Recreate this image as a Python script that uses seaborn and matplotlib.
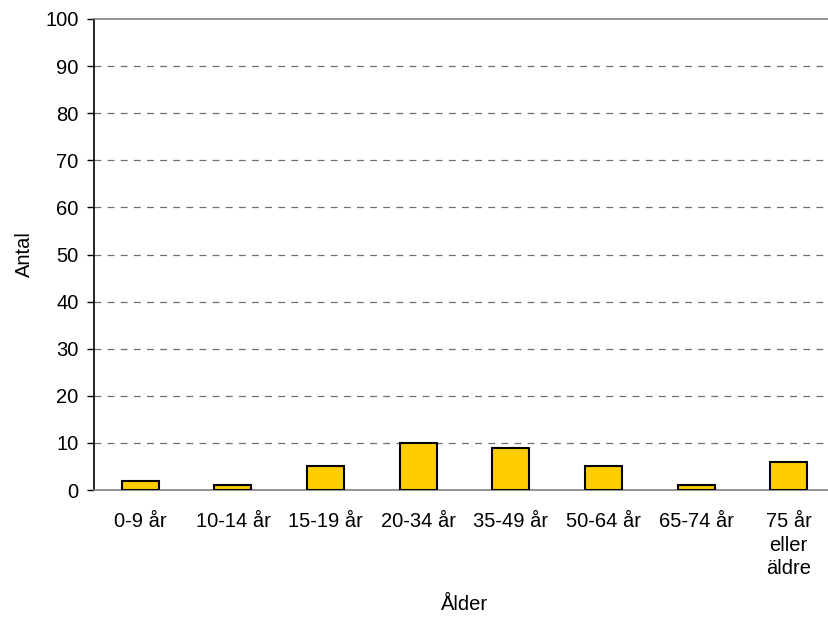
import matplotlib
matplotlib.use("Agg")
import matplotlib.pyplot as plt
import seaborn as sns
import pandas as pd

categories = ["0-9 år", "10-14 år", "15-19 år", "20-34 år", "35-49 år",
              "50-64 år", "65-74 år", "75 år\neller\näldre"]
values = [2, 1, 5, 10, 9, 5, 1, 6]
yticks = list(range(0, 101, 10))

df = pd.DataFrame({"Ålder": categories, "Antal": values})

sns.set_style("white")
plt.rcParams["font.family"] = ["Liberation Sans", "DejaVu Sans"]
plt.rcParams["text.color"] = "black"
plt.rcParams["axes.labelcolor"] = "black"
plt.rcParams["xtick.labelcolor"] = "black"
plt.rcParams["ytick.labelcolor"] = "black"

FS = 14.5

fig = plt.figure(figsize=(8.29, 6.17), dpi=100)
ax = fig.add_axes([94 / 829, 1 - 490 / 617, 741 / 829, (490 - 19) / 617])

sns.barplot(data=df, x="Ålder", y="Antal", color="#FFCC00", saturation=1,
            width=0.4, edgecolor="black", linewidth=1.5, ax=ax, zorder=3)

ax.set_xlim(-0.5, len(categories) - 0.5)
ax.set_ylim(0, 100)
ax.set_yticks(yticks)
ax.set_yticklabels([str(t) for t in yticks], fontsize=FS)

# Dashed horizontal gridlines (solid at the top edge)
for t in yticks[1:-1]:
    ax.axhline(t, color="#707070", lw=0.9, ls=(0, (5.5, 5)), zorder=1)

# Category boundaries carry the tick marks; labels sit at the centres
ax.set_xticks(range(len(categories)))
ax.set_xticklabels(categories, fontsize=FS, linespacing=1.3, va="top")
ax.set_xticks([i - 0.5 for i in range(len(categories) + 1)], minor=True)
ax.tick_params(axis="x", which="major", length=0, pad=16)
ax.tick_params(axis="x", which="minor", length=5, width=1, color="#808080",
               direction="out")
ax.tick_params(axis="y", length=5, width=1, color="black", direction="out",
               left=True, pad=6)

for side, col in [("left", "black"), ("bottom", "#808080"), ("top", "#808080")]:
    ax.spines[side].set_visible(True)
    ax.spines[side].set_color(col)
    ax.spines[side].set_linewidth(1.2)
ax.spines["right"].set_visible(False)

ax.set_xlabel("Ålder", fontsize=FS, labelpad=12)
ax.set_ylabel("Antal", fontsize=FS, labelpad=8)

fig.savefig("out.png", dpi=100)
